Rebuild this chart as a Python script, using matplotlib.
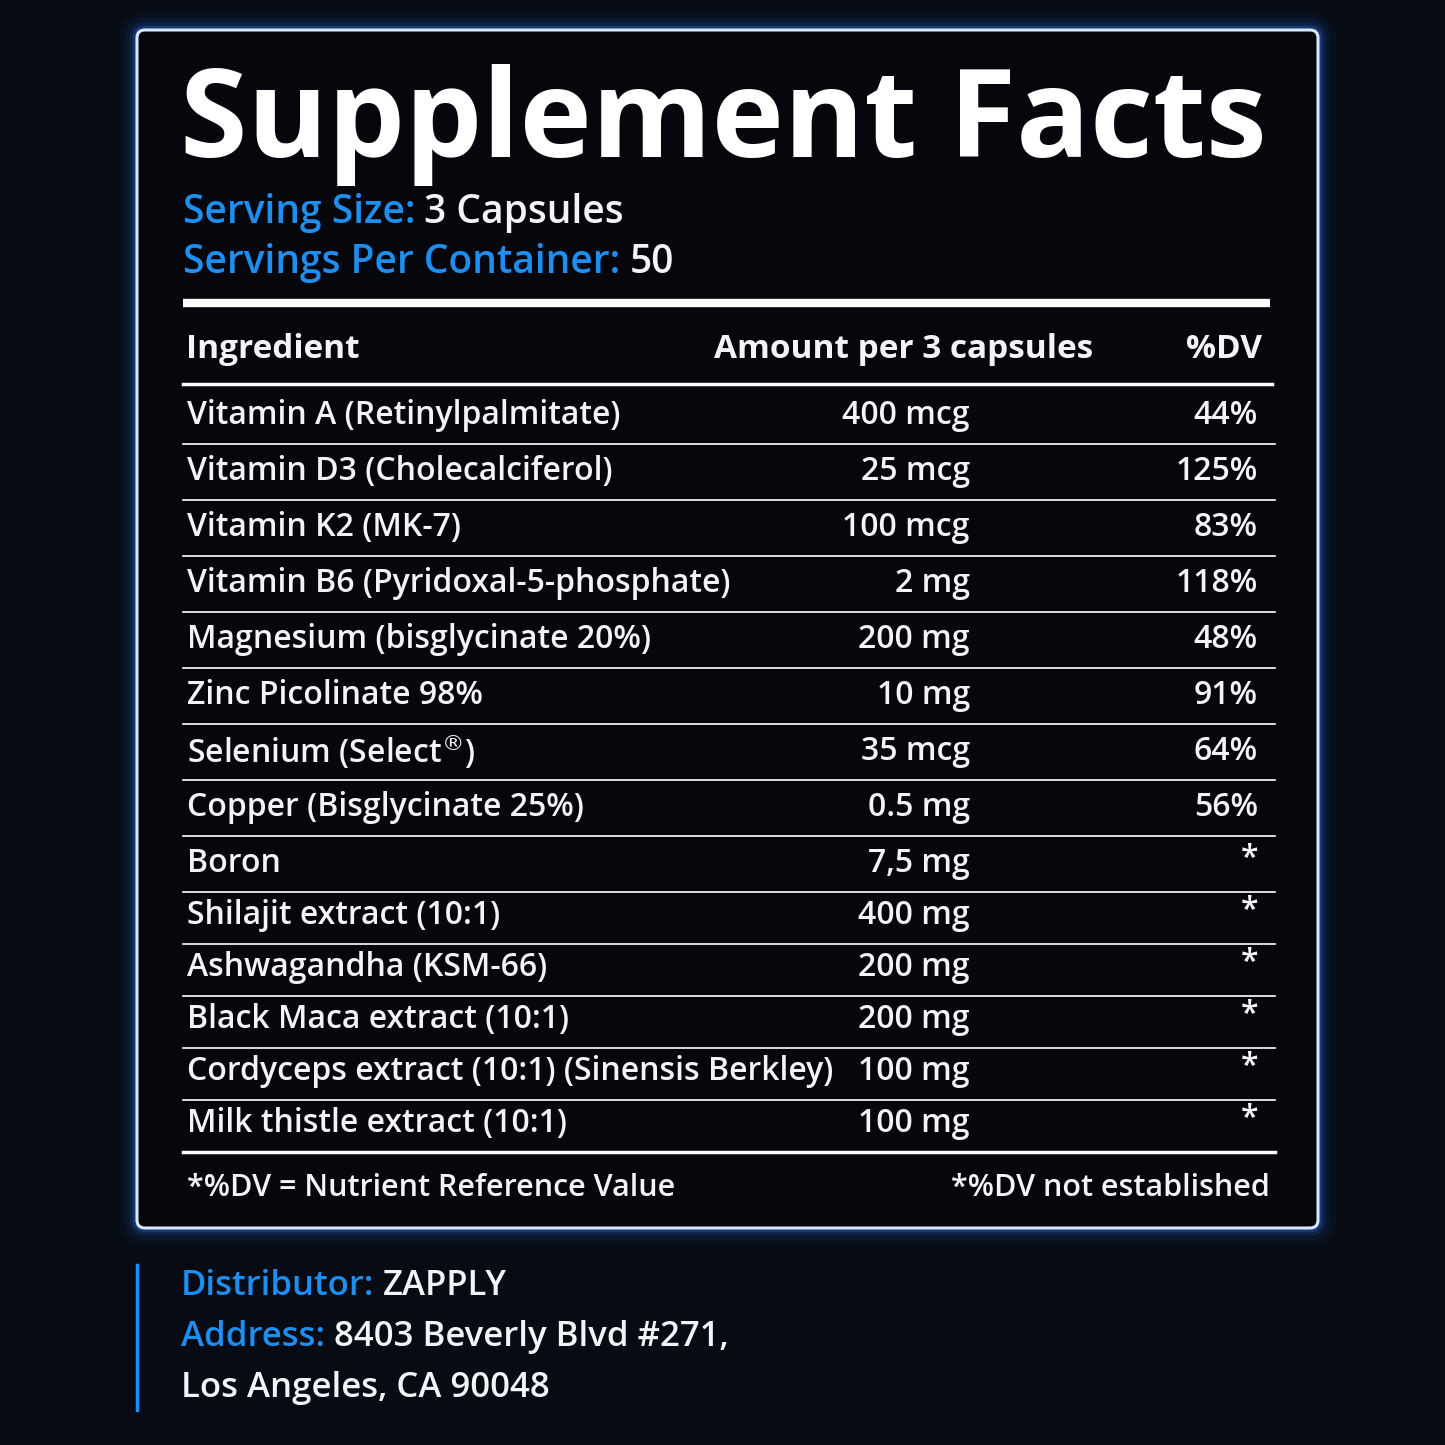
import matplotlib.pyplot as plt
from matplotlib.patches import FancyBboxPatch

# --- Label content ---
INGREDIENTS = [
    "Vitamin A (Retinylpalmitate)", "Vitamin D3 (Cholecalciferol)", "Vitamin K2 (MK-7)",
    "Vitamin B6 (Pyridoxal-5-phosphate)", "Magnesium (bisglycinate 20%)", "Zinc Picolinate 98%",
    "Selenium (Select$^{®}$)", "Copper (Bisglycinate 25%)", "Boron", "Shilajit extract (10:1)",
    "Ashwagandha (KSM-66)", "Black Maca extract (10:1)",
    "Cordyceps extract (10:1) (Sinensis Berkley)", "Milk thistle extract (10:1)",
]
AMOUNTS = ["400 mcg", "25 mcg", "100 mcg", "2 mg", "200 mg", "10 mg", "35 mcg", "0.5 mg",
           "7,5 mg", "400 mg", "200 mg", "200 mg", "100 mg", "100 mg"]
DV = ["44%", "125%", "83%", "118%", "48%", "91%", "64%", "56%", "*", "*", "*", "*", "*", "*"]
INFO = [("Serving Size:", "3 Capsules"), ("Servings Per Container:", "50")]
DISTRIB = [("Distributor:", "ZAPPLY"), ("Address:", "8403 Beverly Blvd #271,"), ("", "Los Angeles, CA 90048")]

BG = "#070b14"
BLUE = "#1f8ef1"
WHITE = "#f2f4f7"
W = "semibold"
plt.rcParams["font.family"] = ["Open Sans", "DejaVu Sans"]

fig = plt.figure(figsize=(14.45, 14.45), dpi=100, facecolor=BG)
ax = fig.add_axes([0, 0, 1, 1])
ax.set_xlim(0, 1445)
ax.set_ylim(1445, 0)
ax.axis("off")
renderer = fig.canvas.get_renderer()


def label_value(x, y, label, value, size):
    if label:
        t = ax.text(x, y, label, color=BLUE, fontsize=size, fontweight=W, va="center")
        bb = t.get_window_extent(renderer)
        x = bb.x1 + 9
    ax.text(x, y, value, color=WHITE, fontsize=size, fontweight=W, va="center")


# glowing panel
for lw, a in [(26, 0.04), (18, 0.07), (11, 0.12), (6, 0.25)]:
    ax.add_patch(FancyBboxPatch((137, 30), 1181, 1198, boxstyle="round,pad=0,rounding_size=8",
                                fill=False, ec="#2f7bff", lw=lw, alpha=a))
ax.add_patch(FancyBboxPatch((137, 30), 1181, 1198, boxstyle="round,pad=0,rounding_size=8",
                            fc="#05070d", ec="#d8e6ff", lw=2.2))

ax.text(180, 125, "Supplement Facts", color="white", fontsize=88, fontweight="bold",
        va="center", ha="left")
for (lab, val), yy in zip(INFO, [213, 263]):
    label_value(183, yy, lab, val, 28)

ax.plot([183, 1270], [303, 303], color="white", lw=6, solid_capstyle="butt")
ax.text(186, 350, "Ingredient", color=WHITE, fontsize=24, fontweight="bold", va="center")
ax.text(1093, 350, "Amount per 3 capsules", color=WHITE, fontsize=24, fontweight="bold",
        va="center", ha="right")
ax.text(1262, 350, "%DV", color=WHITE, fontsize=24, fontweight="bold", va="center", ha="right")
ax.plot([183, 1272], [384, 384], color="white", lw=2.5)

y = 416
for i, (name, amt, dv) in enumerate(zip(INGREDIENTS, AMOUNTS, DV)):
    step = 56 if i < 8 else 52
    ax.text(187, y, name, color=WHITE, fontsize=23, fontweight=W, va="center")
    ax.text(970, y, amt, color=WHITE, fontsize=23, fontweight=W, va="center", ha="right")
    ax.text(1258, y + (-4 if dv == "*" else 0), dv, color=WHITE, fontsize=23, fontweight=W,
            va="center", ha="right")
    last = i == len(INGREDIENTS) - 1
    ax.plot([183, 1275], [y + 28, y + 28], color="white", lw=2.5 if last else 1.2)
    y += step

ax.text(187, 1188, "*%DV = Nutrient Reference Value", color=WHITE, fontsize=22, fontweight=W, va="center")
ax.text(1270, 1188, "*%DV not established", color=WHITE, fontsize=22, fontweight=W, va="center", ha="right")

ax.plot([137, 137], [1265, 1410], color=BLUE, lw=2.5)
for (lab, val), yy in zip(DISTRIB, [1286, 1337, 1388]):
    label_value(181, yy, lab, val, 25)

fig.savefig("out.png", dpi=100, facecolor=BG)
